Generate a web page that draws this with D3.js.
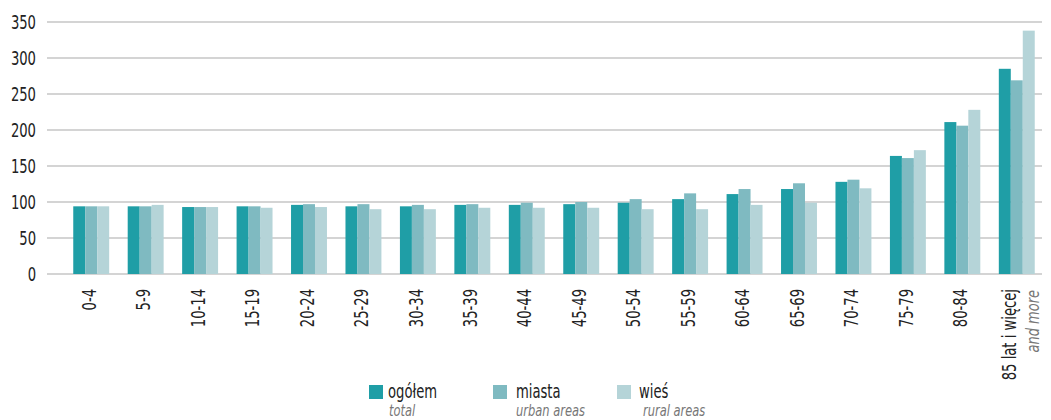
<!DOCTYPE html>
<html lang="pl">
<head>
<meta charset="UTF-8">
<title>Wykres</title>
<script src="https://cdn.jsdelivr.net/npm/d3@7"></script>
<style>
  body { margin: 0; background: #fff; }
  svg { display: block; font-family: "DejaVu Sans Condensed", "DejaVu Sans", sans-serif; }
</style>
</head>
<body>
<script>
// dane
const ageGroups = ["0-4", "5-9", "10-14", "15-19", "20-24", "25-29", "30-34", "35-39", "40-44",
  "45-49", "50-54", "55-59", "60-64", "65-69", "70-74", "75-79", "80-84", "85+"];
const ogolem = [94, 94, 93, 94, 96, 94, 94, 96, 96, 97, 99, 104, 111, 118, 128, 164, 211, 285];
const miasta = [94, 94, 93, 94, 97, 97, 96, 97, 99, 100, 104, 112, 118, 126, 131, 161, 206, 269];
const wies   = [94, 96, 93, 92, 93, 90, 90, 92, 92, 92, 90, 90, 96, 99, 119, 172, 228, 338];
const yTicks = [0, 50, 100, 150, 200, 250, 300, 350];

const seriesNames = ["ogółem", "miasta", "wieś"];
const seriesEn = ["total", "urban areas", "rural areas"];
const colors = ["#1f9ea6", "#7fbac1", "#b5d4d8"];

const width = 1051, height = 420;
const sx = 0.77;   // zwężenie tekstu (czcionka "condensed")

const svg = d3.select("body").append("svg")
    .attr("width", width)
    .attr("height", height);

const y = d3.scaleLinear().domain([0, 350]).range([274, 22]);

const x0 = d3.scaleBand()
    .domain(ageGroups)
    .range([64, 1044])
    .paddingInner(0.34)
    .paddingOuter(0.17);

const x1 = d3.scaleBand()
    .domain(seriesNames)
    .range([0, x0.bandwidth()]);

// siatka
svg.append("g")
    .selectAll("line")
    .data(yTicks)
    .join("line")
    .attr("x1", 47)
    .attr("x2", 1042)
    .attr("y1", d => y(d))
    .attr("y2", d => y(d))
    .attr("stroke", "#c6c6c6")
    .attr("stroke-width", 1.5);

svg.append("g")
    .attr("text-anchor", "end")
    .attr("font-size", 19)
    .attr("fill", "#222")
    .selectAll("text")
    .data(yTicks)
    .join("text")
    .attr("transform", d => `translate(36,${y(d)}) scale(${sx},1)`)
    .attr("dy", "0.35em")
    .text(d => d);

// słupki
const table = ageGroups.map((g, i) => ({ group: g, values: [ogolem[i], miasta[i], wies[i]] }));

svg.append("g")
    .selectAll("g")
    .data(table)
    .join("g")
    .attr("transform", d => `translate(${x0(d.group)},0)`)
    .selectAll("rect")
    .data(d => d.values.map((v, k) => ({ key: seriesNames[k], value: v, k })))
    .join("rect")
    .attr("x", d => x1(d.key))
    .attr("width", x1.bandwidth())
    .attr("y", d => y(d.value))
    .attr("height", d => y(0) - y(d.value))
    .attr("fill", d => colors[d.k]);

// etykiety osi x
const xl = svg.append("g")
    .attr("font-size", 19)
    .attr("fill", "#222");

xl.selectAll("text")
    .data(ageGroups.slice(0, -1))
    .join("text")
    .attr("text-anchor", "end")
    .attr("transform", d => `translate(${x0(d) + x0.bandwidth() / 2 - 2},289) rotate(-90) scale(${sx},1)`)
    .attr("dy", "0.35em")
    .text(d => d);

const last = ageGroups[ageGroups.length - 1];
const cx = x0(last) + x0.bandwidth() / 2;
xl.append("text")
    .attr("text-anchor", "end")
    .attr("transform", `translate(${cx - 1},289) rotate(-90) scale(${sx},1)`)
    .text("85 lat i więcej");
xl.append("text")
    .attr("text-anchor", "end")
    .attr("font-style", "italic")
    .attr("font-size", 17)
    .attr("fill", "#777")
    .attr("transform", `translate(${cx + 22},290) rotate(-90) scale(0.85,1)`)
    .text("and more");

// legenda
const legendX = [369, 493, 617];
const nameDx = [19, 23, 22];
const enDx = [20, 23, 26];
const leg = svg.append("g")
    .selectAll("g")
    .data(seriesNames)
    .join("g")
    .attr("transform", (d, i) => `translate(${legendX[i]},385)`);

leg.append("rect")
    .attr("width", 14)
    .attr("height", 14)
    .attr("fill", (d, i) => colors[i]);

leg.append("text")
    .attr("transform", (d, i) => `translate(${nameDx[i]},13) scale(${sx},1)`)
    .attr("font-size", 19)
    .attr("fill", "#222")
    .text(d => d);

leg.append("text")
    .attr("transform", (d, i) => `translate(${enDx[i]},31) scale(0.85,1)`)
    .attr("font-size", 15)
    .attr("font-style", "italic")
    .attr("fill", "#777")
    .text((d, i) => seriesEn[i]);
</script>
</body>
</html>
